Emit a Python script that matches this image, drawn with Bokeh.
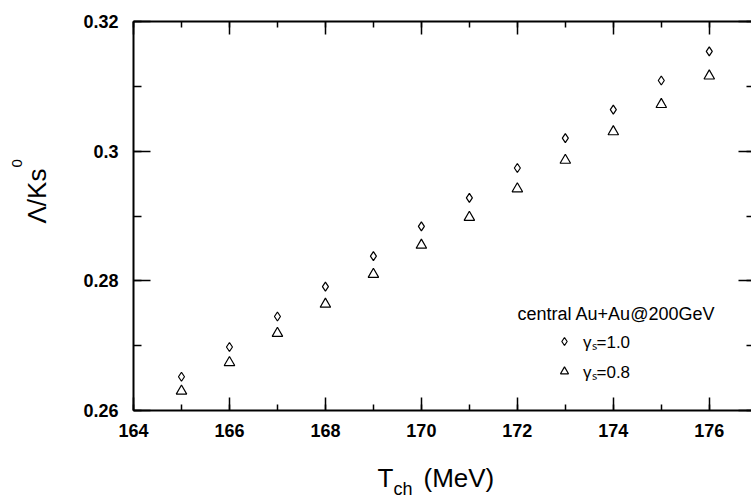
import math
from bokeh.plotting import figure
from bokeh.layouts import row, column
from bokeh.models import (Range1d, LinearAxis, FixedTicker, Label, Legend,
                          LegendItem, PrintfTickFormatter)
from bokeh.embed import file_html
from bokeh.resources import INLINE

# ---- data ----
T_ch = [165, 166, 167, 168, 169, 170, 171, 172, 173, 174, 175, 176]
ratio_gs10 = [0.2652, 0.2698, 0.2745, 0.2791, 0.2838, 0.2884,
              0.2928, 0.2974, 0.3020, 0.3064, 0.3109, 0.3154]
ratio_gs08 = [0.2630, 0.2674, 0.2719, 0.2764, 0.2810, 0.2855,
              0.2898, 0.2942, 0.2986, 0.3030, 0.3072, 0.3116]

x_major = [164, 166, 168, 170, 172, 174, 176]
x_minor = [164, 165, 166, 167, 168, 169, 170, 171, 172, 173, 174, 175, 176, 177]
y_major = [0.26, 0.28, 0.3, 0.32]
y_minor = [0.26, 0.27, 0.28, 0.29, 0.3, 0.31, 0.32]
y_tick_labels = ["0.26", "0.28", "0.3", "0.32"]

legend_title = "central Au+Au@200GeV"
series_labels = ["γₛ=1.0", "γₛ=0.8"]

FONT = "Liberation Sans"

W_YT = 70      # width of the strip holding the y title
H_XT = 48      # height of the strip holding the x title
MAIN_W = 751 - W_YT
MAIN_H = 498 - H_XT


def no_align(f):
    if "frame_align" in f.properties():
        f.frame_align = False
    return f


p = figure(width=MAIN_W, height=MAIN_H,
           x_range=Range1d(164, 176.88), y_range=Range1d(0.26, 0.32),
           output_backend="svg", toolbar_location=None,
           min_border_left=133 - W_YT, min_border_right=0,
           min_border_top=21, min_border_bottom=MAIN_H - 410)
no_align(p)
p.xgrid.visible = False
p.ygrid.visible = False
p.outline_line_color = None
p.background_fill_color = "white"
p.border_fill_color = "white"


def style(ax, major_in, minor_in, labels=True):
    ax.axis_line_width = 2
    ax.axis_line_color = "black"
    ax.major_tick_in = major_in
    ax.major_tick_out = 0
    ax.minor_tick_in = minor_in
    ax.minor_tick_out = 0
    ax.major_tick_line_width = 1.5
    ax.minor_tick_line_width = 1.5
    ax.major_tick_line_color = "black"
    ax.minor_tick_line_color = "black"
    if labels:
        ax.major_label_text_font = FONT
        ax.major_label_text_font_style = "bold"
        ax.major_label_text_font_size = "18px"
        ax.major_label_text_color = "black"
    else:
        ax.major_label_text_font_size = "1px"
        ax.major_label_text_color = None
        ax.major_label_standoff = 0


xa = p.xaxis[0]
xa.ticker = FixedTicker(ticks=x_major, minor_ticks=x_minor)
style(xa, 13, 6)
xa.major_label_standoff = 13

ya = p.yaxis[0]
ya.ticker = FixedTicker(ticks=y_major, minor_ticks=y_minor)
ya.formatter = PrintfTickFormatter(format="%.2g")
ya.major_label_overrides = dict(zip(y_major, y_tick_labels))
style(ya, 17, 8)
ya.major_label_standoff = 15

top = LinearAxis(ticker=FixedTicker(ticks=x_major, minor_ticks=x_minor))
style(top, 13, 6, labels=False)
p.add_layout(top, "above")

right = LinearAxis(ticker=FixedTicker(ticks=y_major, minor_ticks=y_minor))
style(right, 13, 5, labels=False)
right.axis_line_color = None
p.add_layout(right, "right")

r1 = p.scatter(T_ch, ratio_gs10, marker="diamond", size=9,
               fill_color=None, line_color="black", line_width=1.2)
r2 = p.scatter(T_ch, ratio_gs08, marker="triangle", size=10.5,
               fill_color=None, line_color="black", line_width=1.2)

legend = Legend(items=[LegendItem(label=series_labels[0], renderers=[r1]),
                       LegendItem(label=series_labels[1], renderers=[r2])],
                location=(421, 24), orientation="vertical",
                border_line_color=None, background_fill_alpha=0,
                padding=0, margin=0, spacing=0,
                glyph_width=20, glyph_height=30, label_height=30,
                label_standoff=9, label_text_font=FONT,
                label_text_font_size="17px", label_text_color="black")
p.add_layout(legend)

p.add_layout(Label(x=483, y=97, x_units="screen", y_units="screen",
                   text=legend_title, text_font=FONT, text_font_size="18px",
                   text_color="black",
                   text_align="center", text_baseline="alphabetic"))


def strip(w, h):
    f = figure(width=w, height=h, x_range=Range1d(0, 1), y_range=Range1d(0, 1),
               x_axis_type=None, y_axis_type=None,
               output_backend="svg", toolbar_location=None, min_border=0)
    no_align(f)
    f.outline_line_color = None
    f.background_fill_color = "white"
    f.border_fill_color = "white"
    return f


def lab(fig, x, y, text, size, angle=0.0):
    fig.add_layout(Label(x=x, y=y, x_units="screen", y_units="screen",
                         text=text, angle=angle, text_font=FONT,
                         text_font_size=size, text_color="black",
                         text_align="left", text_baseline="alphabetic"))


# x axis title  T_ch (MeV)   (strip spans x 70..751, y 450..498 of the page)
xt = strip(MAIN_W, H_XT)
lab(xt, 377 - W_YT, 21, "T", "26px")
lab(xt, 393 - W_YT, 10, "ch", "18px")
lab(xt, 423 - W_YT, 21, "(MeV)", "26px")

# y axis title  Λ/Ks^0   (strip spans x 0..70, y 0..498 of the page)
yt = strip(W_YT, 498)
lab(yt, 36, 498 - 223, "Λ/Ks", "26px", math.pi / 2)
lab(yt, 16, 498 - 167, "0", "15px", math.pi / 2)

layout = row(yt, column(p, xt, spacing=0), spacing=0)

open("out.html", "w").write(file_html(layout, INLINE))
